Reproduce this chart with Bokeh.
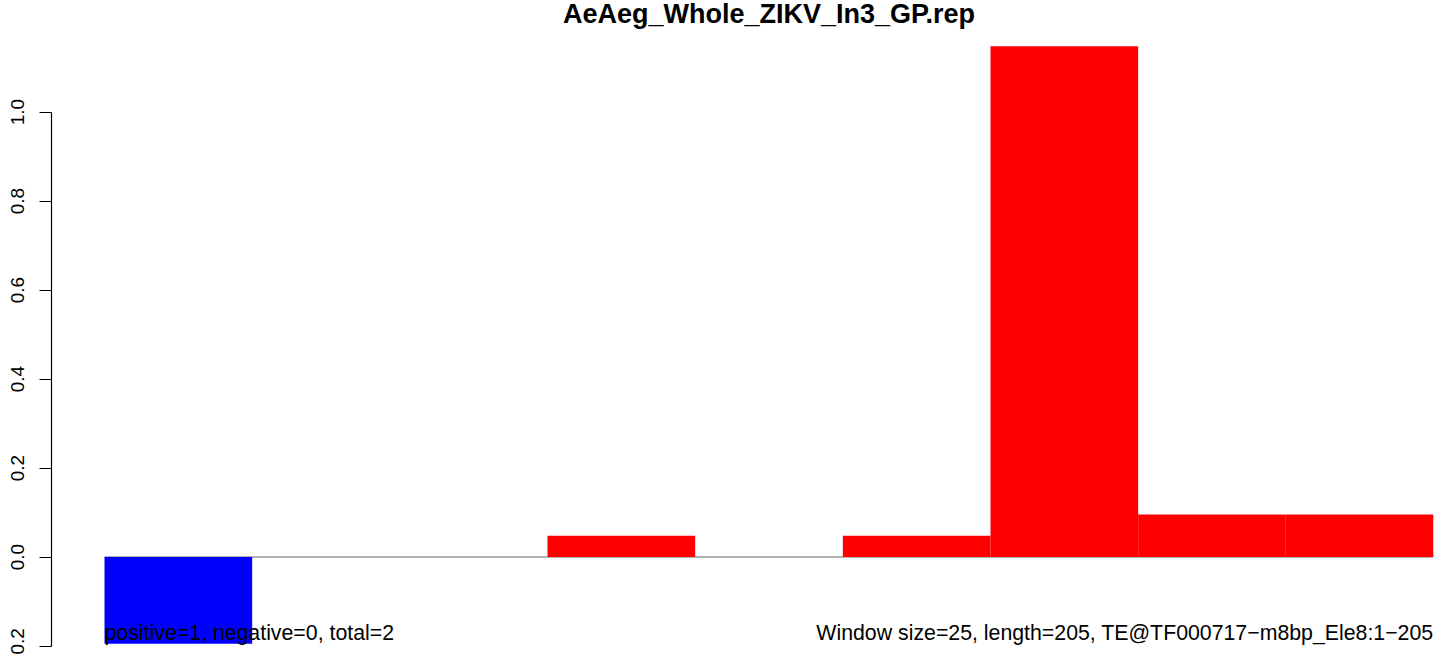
from bokeh.plotting import figure
from bokeh.models import Range1d, FixedTicker, Label
from bokeh.embed import file_html
from bokeh.resources import INLINE

# ---- data ----
title_text = "AeAeg_Whole_ZIKV_In3_GP.rep"
window_index = [0, 1, 2, 3, 4, 5, 6, 7, 8]
window_values = [-0.195, 0.0, 0.0, 0.048, 0.0, 0.048, 1.148, 0.0955, 0.0955]
y_ticks = [-0.2, 0.0, 0.2, 0.4, 0.6, 0.8, 1.0]
y_tick_labels = ["0.2", "0.0", "0.2", "0.4", "0.6", "0.8", "1.0"]
left_note = "positive=1, negative=0, total=2"
right_note = "Window size=25, length=205, TE@TF000717\u2212m8bp_Ele8:1\u2212205"

FONT = "Liberation Sans"

p = figure(width=1441, height=654, output_backend="svg", toolbar_location=None,
           x_range=Range1d(-0.359, 9), y_range=Range1d(-0.2191, 1.2506),
           min_border_left=51, min_border_right=8, min_border_top=0, min_border_bottom=0)
p.outline_line_color = None
p.grid.visible = False
p.xaxis.visible = False

# zero line
p.line(x=[window_index[0], window_index[-1] + 1], y=[0, 0], line_color="#999999", line_width=1.5)

left = [i for i in window_index]
right = [i + 1 for i in window_index]
bottom = [0.0] * len(window_values)
colors = ["#0000FF" if v < 0 else "#FF0000" for v in window_values]
p.quad(left=left, right=right, bottom=bottom, top=window_values, fill_color=colors, line_color=None)

ax = p.yaxis[0]
ax.ticker = FixedTicker(ticks=y_ticks)
ax.major_label_overrides = {t: l for t, l in zip(y_ticks, y_tick_labels)}
ax.bounds = (y_ticks[0], y_ticks[-1])
ax.major_label_orientation = "vertical"
ax.major_label_text_font = FONT
ax.major_label_text_font_size = "19px"
ax.major_label_text_color = "black"
ax.major_tick_out = 12
ax.major_tick_in = 0
ax.minor_tick_out = 0
ax.minor_tick_in = 0
ax.axis_line_color = "black"
ax.major_tick_line_color = "black"
ax.axis_line_width = 1.2
ax.major_tick_line_width = 1.2
ax.major_label_standoff = 15

p.add_layout(Label(x=4.5, y=1.2213, text=title_text, text_font=FONT, text_font_style="bold",
                   text_font_size="27px", text_color="black",
                   text_align="center", text_baseline="middle"))
p.add_layout(Label(x=0, y=-0.1713, text=left_note, text_font=FONT, text_font_size="21.3px",
                   text_color="black", text_align="left", text_baseline="alphabetic"))
p.add_layout(Label(x=9, y=-0.1713, text=right_note, text_font=FONT, text_font_size="21.3px",
                   text_color="black", text_align="right", text_baseline="alphabetic"))

open("out.html", "w").write(file_html(p, INLINE))
